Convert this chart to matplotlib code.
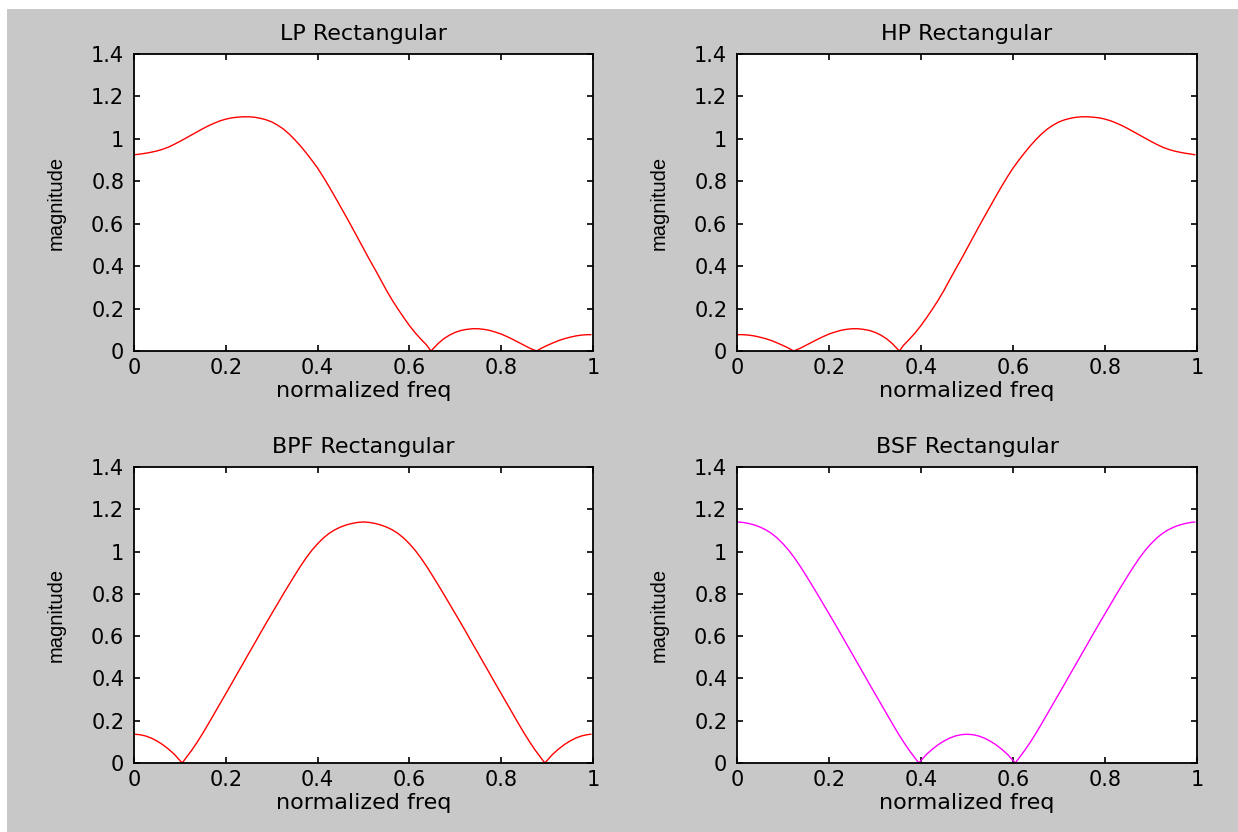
import matplotlib
matplotlib.use('Agg')
import matplotlib.pyplot as plt
from matplotlib.patches import Rectangle
from matplotlib.ticker import FuncFormatter

# values (normalized freq, magnitude)
lp_f = [0, .0125, .025, .0375, .05, .0625, .075, .0875, .1, .1125,
        .125, .1375, .15, .1625, .175, .1875, .2, .2125, .225, .2375,
        .25, .2625, .275, .2875, .3, .3125, .325, .3375, .35, .3625,
        .375, .3875, .4, .4125, .425, .4375, .45, .4625, .475, .4875,
        .5, .5125, .525, .5375, .55, .5625, .575, .5875, .6, .6125,
        .625, .6375, .647, .6625, .675, .6875, .7, .7125, .725, .7375,
        .75, .7625, .775, .7875, .8, .8125, .825, .8375, .85, .8625,
        .877, .8875, .9, .9125, .925, .9375, .95, .9625, .975, .9875, .995]
lp_mag = [0.925, 0.928, 0.932, 0.937, 0.943, 0.951, 0.961, 0.974, 0.988, 1.003,
          1.018, 1.033, 1.048, 1.062, 1.074, 1.085, 1.093, 1.099, 1.102, 1.104,
          1.104, 1.102, 1.097, 1.090, 1.080, 1.065, 1.047, 1.024, 0.997, 0.967,
          0.934, 0.899, 0.862, 0.820, 0.775, 0.728, 0.680, 0.632, 0.583, 0.533,
          0.483, 0.433, 0.385, 0.336, 0.286, 0.240, 0.198, 0.158, 0.120, 0.086,
          0.056, 0.028, 0.000, 0.035, 0.058, 0.075, 0.088, 0.097, 0.102, 0.105,
          0.105, 0.102, 0.097, 0.089, 0.080, 0.068, 0.055, 0.041, 0.027, 0.013,
          0.000, 0.013, 0.026, 0.038, 0.049, 0.058, 0.065, 0.071, 0.075, 0.077, 0.077]

hp_f = [0, .0125, .025, .0375, .05, .0625, .075, .0875, .1, .1125,
        .123, .1375, .15, .1625, .175, .1875, .2, .2125, .225, .2375,
        .25, .2625, .275, .2875, .3, .3125, .325, .3375, .353, .3625,
        .375, .3875, .4, .4125, .425, .4375, .45, .4625, .475, .4875,
        .5, .5125, .525, .5375, .55, .5625, .575, .5875, .6, .6125,
        .625, .6375, .65, .6625, .675, .6875, .7, .7125, .725, .7375,
        .75, .7625, .775, .7875, .8, .8125, .825, .8375, .85, .8625,
        .875, .8875, .9, .9125, .925, .9375, .95, .9625, .975, .9875, .995]
hp_mag = [0.077, 0.077, 0.075, 0.071, 0.065, 0.058, 0.049, 0.038, 0.026, 0.013,
          0.000, 0.013, 0.027, 0.041, 0.055, 0.068, 0.080, 0.089, 0.097, 0.102,
          0.105, 0.105, 0.102, 0.097, 0.088, 0.075, 0.058, 0.035, 0.000, 0.028,
          0.056, 0.086, 0.120, 0.158, 0.198, 0.240, 0.286, 0.336, 0.385, 0.433,
          0.483, 0.533, 0.583, 0.632, 0.680, 0.728, 0.775, 0.820, 0.862, 0.899,
          0.934, 0.967, 0.997, 1.024, 1.047, 1.065, 1.080, 1.090, 1.097, 1.102,
          1.104, 1.104, 1.102, 1.099, 1.093, 1.085, 1.074, 1.062, 1.048, 1.033,
          1.018, 1.003, 0.988, 0.974, 0.961, 0.951, 0.943, 0.937, 0.932, 0.928, 0.925]

bp_f = [0, .0125, .025, .0375, .05, .0625, .075, .0875, .105, .1125,
        .125, .1375, .15, .1625, .175, .1875, .2, .2125, .225, .2375,
        .25, .2625, .275, .2875, .3, .3125, .325, .3375, .35, .3625,
        .375, .3875, .4, .4125, .425, .4375, .45, .4625, .475, .4875,
        .5, .5125, .525, .5375, .55, .5625, .575, .5875, .6, .6125,
        .625, .6375, .65, .6625, .675, .6875, .7, .7125, .725, .7375,
        .75, .7625, .775, .7875, .8, .8125, .825, .8375, .85, .8625,
        .875, .8875, .895, .9125, .925, .9375, .95, .9625, .975, .9875, .995]
bp_mag = [0.136, 0.134, 0.128, 0.118, 0.104, 0.087, 0.066, 0.042, 0.000, 0.022,
          0.058, 0.098, 0.141, 0.187, 0.234, 0.281, 0.328, 0.375, 0.423, 0.470,
          0.518, 0.565, 0.613, 0.660, 0.706, 0.752, 0.798, 0.843, 0.887, 0.930,
          0.970, 1.006, 1.037, 1.064, 1.086, 1.103, 1.116, 1.126, 1.133, 1.138,
          1.140, 1.138, 1.133, 1.126, 1.116, 1.103, 1.086, 1.064, 1.037, 1.006,
          0.970, 0.930, 0.887, 0.843, 0.798, 0.752, 0.706, 0.660, 0.613, 0.565,
          0.518, 0.470, 0.423, 0.375, 0.328, 0.281, 0.234, 0.187, 0.141, 0.098,
          0.058, 0.022, 0.000, 0.042, 0.066, 0.087, 0.104, 0.118, 0.128, 0.134, 0.136]

bs_f = [0, .0125, .025, .0375, .05, .0625, .075, .0875, .1, .1125,
        .125, .1375, .15, .1625, .175, .1875, .2, .2125, .225, .2375,
        .25, .2625, .275, .2875, .3, .3125, .325, .3375, .35, .3625,
        .375, .3875, .395, .4125, .425, .4375, .45, .4625, .475, .4875,
        .5, .5125, .525, .5375, .55, .5625, .575, .5875, .605, .6125,
        .625, .6375, .65, .6625, .675, .6875, .7, .7125, .725, .7375,
        .75, .7625, .775, .7875, .8, .8125, .825, .8375, .85, .8625,
        .875, .8875, .9, .9125, .925, .9375, .95, .9625, .975, .9875, .995]
bs_mag = [1.140, 1.138, 1.133, 1.126, 1.116, 1.103, 1.086, 1.064, 1.037, 1.006,
          0.970, 0.930, 0.887, 0.843, 0.798, 0.752, 0.706, 0.660, 0.613, 0.565,
          0.518, 0.470, 0.423, 0.375, 0.328, 0.281, 0.234, 0.187, 0.141, 0.098,
          0.058, 0.022, 0.000, 0.042, 0.066, 0.087, 0.104, 0.118, 0.128, 0.134,
          0.136, 0.134, 0.128, 0.118, 0.104, 0.087, 0.066, 0.042, 0.000, 0.022,
          0.058, 0.098, 0.141, 0.187, 0.234, 0.281, 0.328, 0.375, 0.423, 0.470,
          0.518, 0.565, 0.613, 0.660, 0.706, 0.752, 0.798, 0.843, 0.887, 0.930,
          0.970, 1.006, 1.037, 1.064, 1.086, 1.103, 1.116, 1.126, 1.133, 1.138, 1.140]

titles = ['LP Rectangular', 'HP Rectangular', 'BPF Rectangular', 'BSF Rectangular']
series = [(lp_f, lp_mag, 'red'), (hp_f, hp_mag, 'red'),
          (bp_f, bp_mag, 'red'), (bs_f, bs_mag, 'magenta')]

plt.rcParams['font.family'] = 'DejaVu Sans'

W, H = 1238, 832
fig = plt.figure(figsize=(W / 100, H / 100), dpi=100, facecolor='white')
# grey MATLAB figure area (thin white strip at top and left in the screenshot)
fig.patches.append(Rectangle((7 / W, 0), 1 - 7 / W, 1 - 9 / H, transform=fig.transFigure,
                             facecolor='#c8c8c8', edgecolor='none', zorder=-10))

# axes boxes in pixels: left, top, right, bottom
boxes = [(134, 54, 593, 351), (737, 54, 1197, 351),
         (134, 467, 593, 763), (737, 467, 1197, 763)]

fmt = FuncFormatter(lambda v, p: '%g' % round(v, 2))
for (l, t, r, b), title, (f, m, c) in zip(boxes, titles, series):
    ax = fig.add_axes([l / W, 1 - b / H, (r - l) / W, (b - t) / H])
    ax.plot(f, m, color=c, lw=1.0)
    ax.set_xlim(0, 1)
    ax.set_ylim(0, 1.4)
    ax.set_xticks([0, 0.2, 0.4, 0.6, 0.8, 1])
    ax.set_yticks([0, 0.2, 0.4, 0.6, 0.8, 1, 1.2, 1.4])
    ax.xaxis.set_major_formatter(fmt)
    ax.yaxis.set_major_formatter(fmt)
    ax.tick_params(direction='in', top=True, right=True, length=4, width=1.2,
                   labelsize=15, colors='black')
    ax.tick_params(axis='x', pad=5)
    ax.tick_params(axis='y', pad=7)
    for s in ax.spines.values():
        s.set_linewidth(1.3)
    ax.set_title(title, fontsize=16, pad=10)
    ax.set_xlabel('normalized freq', fontsize=16, labelpad=2)
    ax.set_ylabel('magnitude', fontsize=14.5, family='Liberation Sans')
    ax.yaxis.set_label_coords(-0.148, 0.5)

fig.savefig('out.png', dpi=100, facecolor=fig.get_facecolor())
